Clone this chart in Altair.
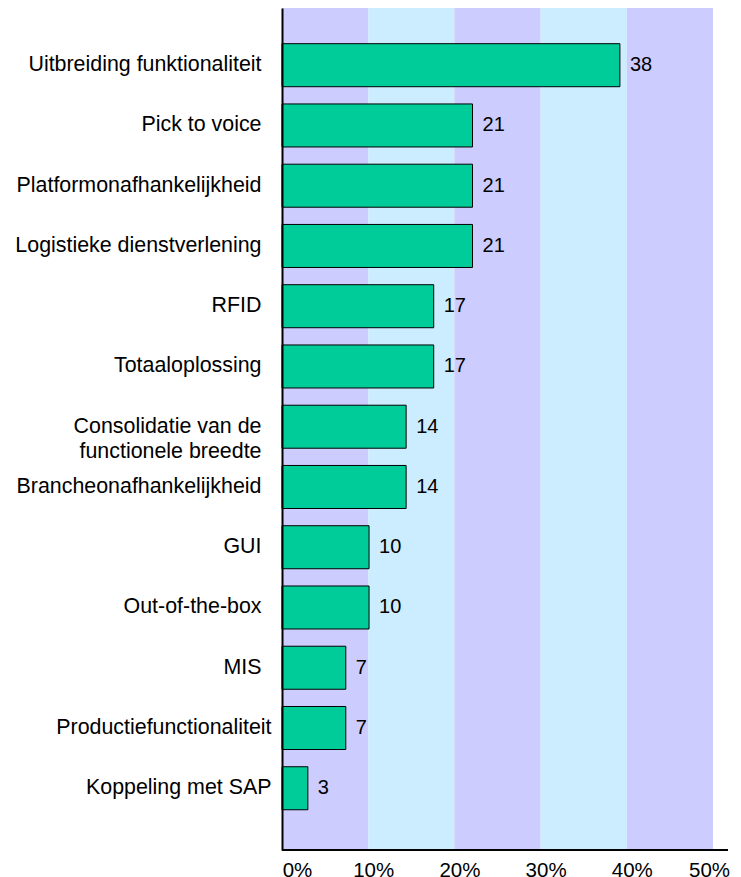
import altair as alt
import pandas as pd

categories = [
    "Uitbreiding funktionaliteit",
    "Pick to voice",
    "Platformonafhankelijkheid",
    "Logistieke dienstverlening",
    "RFID",
    "Totaaloplossing",
    "Consolidatie van de|functionele breedte",
    "Brancheonafhankelijkheid",
    "GUI",
    "Out-of-the-box",
    "MIS",
    "Productiefunctionaliteit",
    "Koppeling met SAP",
]
bar_values = [39.2, 22.1, 22.1, 22.1, 17.6, 17.6, 14.4, 14.4, 10.1, 10.1, 7.4, 7.4, 3.0]
value_labels = ["38", "21", "21", "21", "17", "17", "14", "14", "10", "10", "7", "7", "3"]

band_starts = [0, 10, 20, 30, 40]
band_ends = [10, 20, 30, 40, 50]
band_shades = ["violet", "blue", "violet", "blue", "violet"]
tick_values = [0, 10, 20, 30, 40, 50]

FONT = "Liberation Sans, Arial, Helvetica, sans-serif"

bars_df = pd.DataFrame({"category": categories, "value": bar_values, "label": value_labels})
bands_df = pd.DataFrame({"start": band_starts, "end": band_ends, "shade": band_shades})

xscale = alt.Scale(domain=[0, 50], nice=False, zero=True)
yscale = alt.Scale(paddingInner=0.286, paddingOuter=0.63, align=0.47)

xaxis = alt.Axis(
    values=tick_values,
    labelExpr="datum.value + '%'",
    title=None,
    grid=False,
    ticks=False,
    domain=False,
    labelFlush=False,
    labelFont=FONT,
    labelFontSize=20.5,
    labelColor="black",
    labelPadding=10,
    labelOffset={
        "condition": [
            {"test": "datum.value === 0", "value": 15},
            {"test": "datum.value === 50", "value": -4},
        ],
        "value": 5,
    },
)

yaxis = alt.Axis(
    title=None,
    grid=False,
    ticks=False,
    domain=True,
    domainColor="black",
    domainWidth=2,
    zindex=1,
    labelExpr="split(datum.label, '|')",
    labelLineHeight=25,
    labelFont=FONT,
    labelFontSize=21.4,
    labelColor="black",
    labelPadding={
        "condition": {
            "test": "datum.label === 'Productiefunctionaliteit' || datum.label === 'Koppeling met SAP'",
            "value": 11,
        },
        "value": 21,
    },
    labelLimit=400,
)

bands = alt.Chart(bands_df).mark_rect().encode(
    x=alt.X("start:Q", scale=xscale, axis=xaxis),
    x2="end:Q",
    y=alt.value(0),
    y2=alt.value(842),
    color=alt.Color(
        "shade:N",
        scale=alt.Scale(domain=["violet", "blue"], range=["#CCCCFF", "#CCECFF"]),
        legend=None,
    ),
)

bars = alt.Chart(bars_df).mark_bar(fill="#00CC99", stroke="black", strokeWidth=1).encode(
    x=alt.X("value:Q", scale=xscale, axis=xaxis),
    y=alt.Y("category:N", sort=categories, scale=yscale, axis=yaxis),
)

texts = alt.Chart(bars_df).mark_text(
    align="left", baseline="middle", dx=10, font=FONT, fontSize=20, color="black"
).encode(
    x=alt.X("value:Q", scale=xscale),
    y=alt.Y("category:N", sort=categories, scale=yscale),
    text="label:N",
)

xline = alt.Chart(bars_df).mark_rule(color="black", strokeWidth=2).encode(
    x=alt.value(0), x2=alt.value(446), y=alt.value(842)
)

chart = (
    alt.layer(bands, bars, texts, xline)
    .properties(
        width=431,
        height=842,
        autosize=alt.AutoSizeParams(type="none"),
        padding={"left": 282, "top": 8, "right": 28, "bottom": 27},
        background="white",
    )
    .configure_view(stroke=None)
)

chart.save("out.html", embed_options={"renderer": "svg", "actions": False})
